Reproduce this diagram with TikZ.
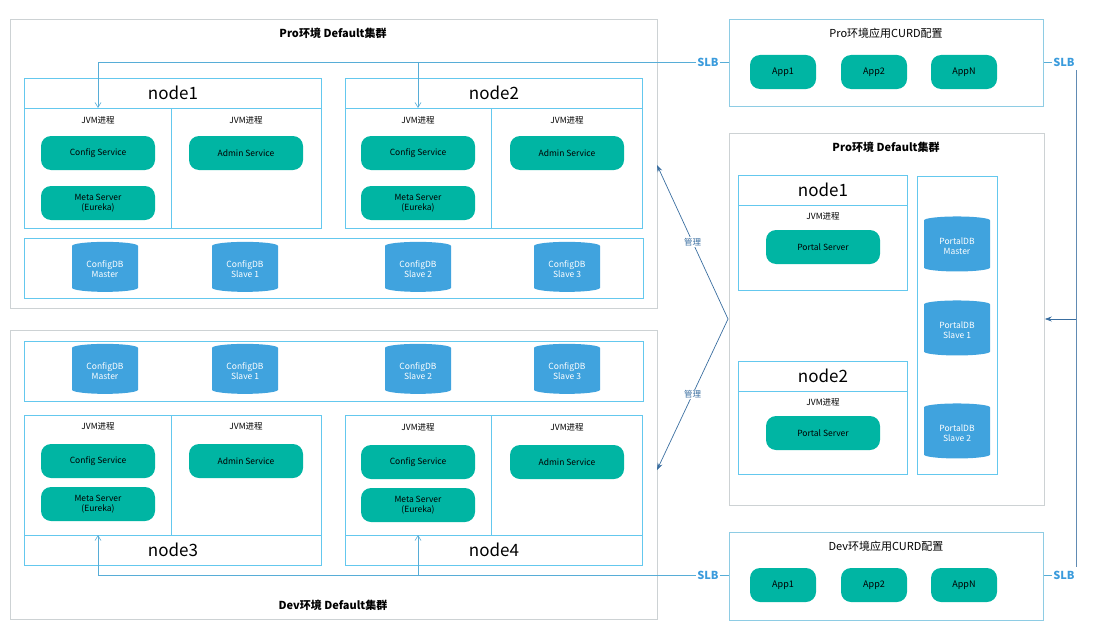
\documentclass[tikz,border=0pt]{standalone}
\usepackage{fontspec}
\setmainfont{Noto Sans CJK SC}
\usetikzlibrary{shapes.geometric,arrows.meta}
\definecolor{teal1}{RGB}{0,181,163}
\definecolor{dbblue}{RGB}{64,163,222}
\definecolor{cyanb}{RGB}{100,200,238}
\definecolor{grayb}{RGB}{205,210,212}
\definecolor{arrc}{RGB}{58,110,160}
\definecolor{slbc}{RGB}{58,155,220}
\begin{document}
\begin{tikzpicture}[x=1pt,y=-1pt,
 outer/.style={draw=grayb,line width=0.8pt,anchor=north west,inner sep=0},
 ibox/.style={draw=cyanb,line width=0.9pt,anchor=north west,inner sep=0},
 pill/.style={fill=teal1,rounded corners=10pt,minimum width=114pt,minimum height=34pt,font=\fontsize{8.5}{10}\selectfont,align=center,inner sep=0},
 app/.style={fill=teal1,rounded corners=10pt,minimum width=66pt,minimum height=34pt,font=\fontsize{9}{10}\selectfont,inner sep=0},
 db/.style={cylinder,shape border rotate=90,aspect=0.22,fill=dbblue,text=white,minimum width=66pt,minimum height=50pt,font=\fontsize{8.5}{10}\selectfont,align=center,inner sep=0},
 jvm/.style={font=\fontsize{8.5}{10}\selectfont},
 nodet/.style={font=\fontsize{17}{18}\selectfont},
 title/.style={font=\fontsize{11}{12}\selectfont\bfseries},
 slb/.style={text=slbc,font=\fontsize{11}{12}\selectfont\bfseries,inner sep=1pt},
 ln/.style={draw=cyanb!70!arrc,line width=0.6pt},
 arr/.style={ln,-{Straight Barb[length=5pt,width=6pt]}},
 marr/.style={draw=arrc,line width=0.7pt,-{Stealth[length=7pt,width=5pt]}}]
\useasboundingbox (0,0) rectangle (1102,634);
% ---------- Pro config cluster
\node[outer,minimum width=647pt,minimum height=289pt] (proL) at (10,19) {};
\node[title] (proLt) at (333,33) {Pro环境 Default集群};
\node[ibox,minimum width=297pt,minimum height=150pt] (n1) at (24,78) {};
\draw[cyanb,line width=0.9pt] (24,108) -- (321,108) (171,108) -- (171,228);
\node[nodet] (n1t) at (173,93) {node1};
\node[jvm] (j1a) at (98,120) {JVM进程};
\node[jvm] (j1b) at (246,120) {JVM进程};
\node[pill] (cs1) at (98,153) {Config Service};
\node[pill] (ms1) at (98,203) {Meta Server\\(Eureka)};
\node[pill] (as1) at (246,153) {Admin Service};
\node[ibox,minimum width=297pt,minimum height=150pt] (n2) at (345,78) {};
\draw[cyanb,line width=0.9pt] (345,108) -- (642,108) (491,108) -- (491,228);
\node[nodet] (n2t) at (494,93) {node2};
\node[jvm] (j2a) at (418,120) {JVM进程};
\node[jvm] (j2b) at (567,120) {JVM进程};
\node[pill] (cs2) at (418,153) {Config Service};
\node[pill] (ms2) at (418,203) {Meta Server\\(Eureka)};
\node[pill] (as2) at (567,153) {Admin Service};
\node[ibox,minimum width=619pt,minimum height=60pt] (dbp) at (24,238) {};
\node[db] (d1) at (105,269) {ConfigDB\\Master};
\node[db] (d2) at (245,269) {ConfigDB\\Slave 1};
\node[db] (d3) at (418,269) {ConfigDB\\Slave 2};
\node[db] (d4) at (567,269) {ConfigDB\\Slave 3};
% ---------- Dev config cluster
\node[outer,minimum width=647pt,minimum height=289pt] (devL) at (10,330) {};
\node[title] (devLt) at (333,605) {Dev环境 Default集群};
\node[ibox,minimum width=619pt,minimum height=60pt] (dbd) at (24,341) {};
\node[db] (e1) at (105,371) {ConfigDB\\Master};
\node[db] (e2) at (245,371) {ConfigDB\\Slave 1};
\node[db] (e3) at (418,371) {ConfigDB\\Slave 2};
\node[db] (e4) at (567,371) {ConfigDB\\Slave 3};
\node[ibox,minimum width=297pt,minimum height=150pt] (n3) at (24,415) {};
\draw[cyanb,line width=0.9pt] (24,535) -- (321,535) (171,415) -- (171,535);
\node[nodet] (n3t) at (173,550) {node3};
\node[jvm] (j3a) at (98,426) {JVM进程};
\node[jvm] (j3b) at (246,426) {JVM进程};
\node[pill] (cs3) at (98,461) {Config Service};
\node[pill] (ms3) at (98,504) {Meta Server\\(Eureka)};
\node[pill] (as3) at (246,461) {Admin Service};
\node[ibox,minimum width=297pt,minimum height=150pt] (n4) at (345,415) {};
\draw[cyanb,line width=0.9pt] (345,535) -- (642,535) (491,415) -- (491,535);
\node[nodet] (n4t) at (494,550) {node4};
\node[jvm] (j4a) at (418,427) {JVM进程};
\node[jvm] (j4b) at (567,427) {JVM进程};
\node[pill] (cs4) at (418,462) {Config Service};
\node[pill] (ms4) at (418,505) {Meta Server\\(Eureka)};
\node[pill] (as4) at (567,462) {Admin Service};
% ---------- Right: Pro apps
\node[outer,draw=cyanb!60!grayb,minimum width=314pt,minimum height=87pt] (proA) at (729,19) {};
\node[font=\fontsize{11}{12}\selectfont] (proAt) at (886,33) {Pro环境应用CURD配置};
\node[app] (pa1) at (783,72) {App1};
\node[app] (pa2) at (874,72) {App2};
\node[app] (pa3) at (964,72) {AppN};
% ---------- Right: portal cluster
\node[outer,minimum width=315pt,minimum height=372pt] (proP) at (729,133) {};
\node[title] (proPt) at (886,147) {Pro环境 Default集群};
\node[ibox,minimum width=169pt,minimum height=115pt] (p1) at (738,175) {};
\draw[cyanb,line width=0.9pt] (738,205) -- (907,205);
\node[nodet] (p1t) at (823,190) {node1};
\node[jvm] (pj1) at (823,216) {JVM进程};
\node[pill] (ps1) at (823,247) {Portal Server};
\node[ibox,minimum width=169pt,minimum height=113pt] (p2) at (738,361) {};
\draw[cyanb,line width=0.9pt] (738,391) -- (907,391);
\node[nodet] (p2t) at (823,376) {node2};
\node[jvm] (pj2) at (823,402) {JVM进程};
\node[pill] (ps2) at (823,433) {Portal Server};
\node[ibox,minimum width=80pt,minimum height=298pt] (pdb) at (917,176) {};
\node[db,minimum height=55pt] (q1) at (957,246) {PortalDB\\Master};
\node[db,minimum height=55pt] (q2) at (957,330) {PortalDB\\Slave 1};
\node[db,minimum height=55pt] (q3) at (957,433) {PortalDB\\Slave 2};
% ---------- Right: Dev apps
\node[outer,draw=cyanb!60!grayb,minimum width=314pt,minimum height=88pt] (devA) at (729,532) {};
\node[font=\fontsize{11}{12}\selectfont] (devAt) at (886,546) {Dev环境应用CURD配置};
\node[app] (da1) at (783,585) {App1};
\node[app] (da2) at (874,585) {App2};
\node[app] (da3) at (964,585) {AppN};
% ---------- SLB connectors
\node[slb] (slbTL) at (708,62) {SLB};
\node[slb] (slbTR) at (1064,62) {SLB};
\node[slb] (slbBL) at (708,575) {SLB};
\node[slb] (slbBR) at (1064,575) {SLB};
\draw[ln] (slbTL.east) -- (proA.west |- slbTL);
\draw[ln] (slbTR.west) -- (proA.east |- slbTR);
\draw[ln] (slbBL.east) -- (devA.west |- slbBL);
\draw[ln] (slbBR.west) -- (devA.east |- slbBR);
\coordinate (t1) at (98,108); \coordinate (t2) at (418,108);
\coordinate (b1) at (98,535); \coordinate (b2) at (418,535);
\draw[arr] (slbTL.west) -| (t1);
\draw[arr] (418,62) -- (t2);
\draw[arr] (slbBL.west) -| (b1);
\draw[arr] (418,575) -- (b2);
\coordinate (rtop) at (1076,70); \coordinate (rbot) at (1076,567);
\coordinate (rmid) at (1076,319);
\draw[ln,draw=arrc!80] (rtop) -- (rbot);
\draw[marr] (rmid) -- (proP.east |- rmid);
% ---------- manage arrows
\coordinate (mg) at (728,319);
\coordinate (mt) at (657,165); \coordinate (mb) at (657,470);
\draw[marr] (mg) -- (mt) node[pos=0.5,fill=white,inner sep=1pt,font=\fontsize{8.5}{10}\selectfont,text=arrc] (mg1) {管理};
\draw[marr] (mg) -- (mb) node[pos=0.5,fill=white,inner sep=1pt,font=\fontsize{8.5}{10}\selectfont,text=arrc] (mg2) {管理};
\end{tikzpicture}
\end{document}
